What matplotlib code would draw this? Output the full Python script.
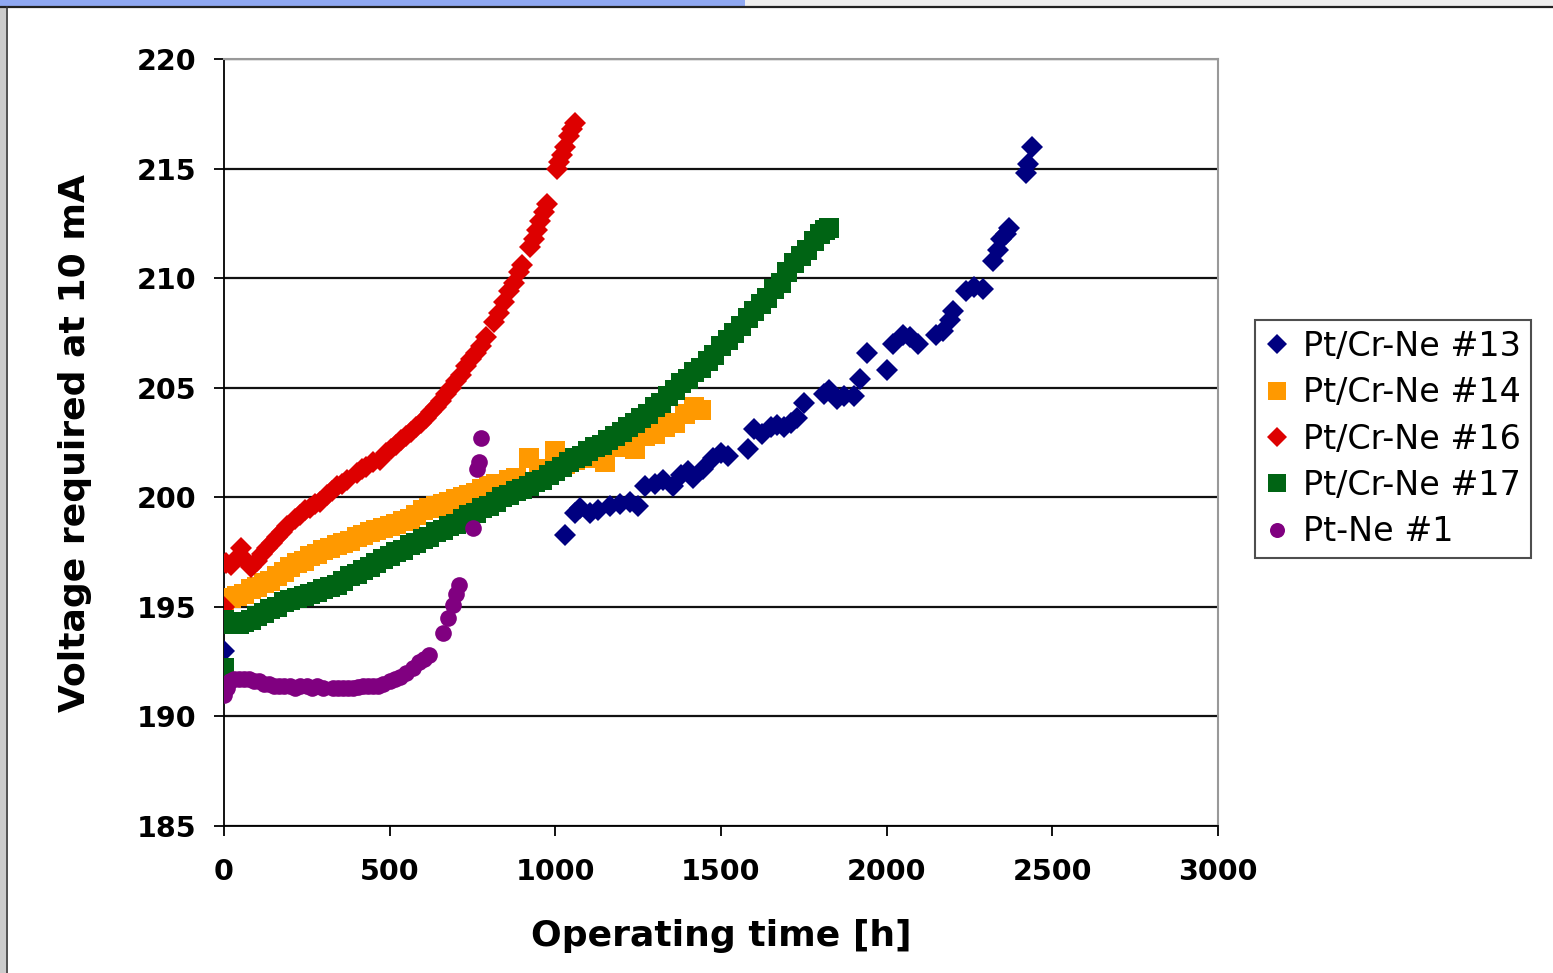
import numpy as np
import matplotlib.pyplot as plt
from matplotlib.patches import Rectangle
from matplotlib.lines import Line2D

# Operating time [h] and voltage [V] for each discharge cell
t13 = [0, 1030, 1060, 1075, 1105, 1130, 1165, 1195, 1225, 1250, 1270, 1300, 1325,
       1355, 1380, 1400, 1415, 1445, 1475, 1500, 1520, 1580, 1600, 1625, 1650, 1670,
       1690, 1710, 1730, 1750, 1810, 1825, 1850, 1870, 1900, 1920, 1940, 2000, 2020,
       2050, 2070, 2095, 2150, 2170, 2190, 2200, 2240, 2265, 2290, 2320, 2335, 2345,
       2360, 2370, 2420, 2428, 2440]
v13 = [193.0, 198.3, 199.3, 199.5, 199.3, 199.4, 199.6, 199.7, 199.8, 199.6, 200.5,
       200.6, 200.8, 200.5, 201.0, 201.2, 200.9, 201.3, 201.8, 202.0, 201.9, 202.2,
       203.1, 202.9, 203.2, 203.3, 203.2, 203.4, 203.6, 204.3, 204.7, 204.9, 204.5,
       204.6, 204.6, 205.4, 206.6, 205.8, 207.0, 207.4, 207.3, 207.0, 207.4, 207.6,
       208.1, 208.5, 209.4, 209.6, 209.5, 210.8, 211.3, 211.8, 212.0, 212.3, 214.8,
       215.2, 216.0]

t14 = [0, 20, 40, 60, 80, 100, 120, 140, 160, 180, 200, 220, 240, 260, 280, 300, 320,
       340, 360, 380, 400, 420, 440, 460, 480, 500, 520, 540, 560, 580, 600, 620, 640,
       660, 680, 700, 720, 740, 760, 780, 800, 820, 840, 860, 880, 920, 950, 980, 1000,
       1030, 1060, 1090, 1120, 1150, 1180, 1210, 1240, 1270, 1300, 1330, 1360, 1390,
       1420, 1440]
v14 = [194.5, 195.4, 195.5, 195.6, 195.8, 195.9, 196.1, 196.2, 196.4, 196.6, 196.8,
       197.0, 197.1, 197.3, 197.4, 197.6, 197.7, 197.8, 197.9, 198.0, 198.2, 198.3,
       198.4, 198.5, 198.6, 198.7, 198.8, 198.9, 199.0, 199.2, 199.4, 199.5, 199.6,
       199.7, 199.8, 199.9, 200.0, 200.1, 200.2, 200.4, 200.5, 200.6, 200.6, 200.8,
       200.9, 201.8, 201.0, 201.3, 202.1, 201.5, 201.7, 201.8, 202.0, 201.6, 202.3,
       202.6, 202.2, 202.8, 202.9, 203.2, 203.4, 203.8, 204.1, 204.0]

t16 = [0, 5, 20, 35, 50, 65, 80, 100, 115, 130, 145, 160, 175, 190, 215, 230, 245, 260,
       275, 290, 310, 325, 340, 355, 370, 400, 415, 430, 450, 470, 490, 505, 520, 535,
       550, 565, 580, 595, 610, 625, 640, 655, 670, 685, 700, 715, 730, 745, 760, 775,
       790, 815, 830, 845, 860, 875, 890, 900, 925, 935, 945, 955, 965, 975, 1005, 1012,
       1020, 1030, 1040, 1050, 1060]
v16 = [195.0, 197.0, 196.9, 197.2, 197.7, 197.1, 196.8, 197.1, 197.4, 197.7, 197.9,
       198.2, 198.4, 198.7, 199.0, 199.2, 199.4, 199.5, 199.7, 199.8, 200.1, 200.3,
       200.5, 200.6, 200.8, 201.1, 201.3, 201.4, 201.6, 201.7, 202.0, 202.2, 202.4,
       202.6, 202.8, 203.0, 203.2, 203.4, 203.6, 203.9, 204.1, 204.4, 204.7, 205.0,
       205.3, 205.6, 206.0, 206.3, 206.6, 206.9, 207.3, 208.0, 208.4, 208.9, 209.4,
       209.8, 210.3, 210.6, 211.4, 211.8, 212.2, 212.6, 213.0, 213.4, 215.0, 215.3,
       215.6, 216.0, 216.5, 216.8, 217.1]

t17 = [0, 0, 15, 30, 45, 60, 80, 100, 120, 140, 160, 180, 200, 220, 240, 260, 280, 300,
       320, 340, 360, 380, 400, 420, 440, 460, 480, 500, 520, 540, 560, 580, 600, 620,
       640, 660, 680, 700, 720, 740, 760, 780, 800, 820, 840, 860, 880, 900, 920, 940,
       960, 980, 1000, 1020, 1040, 1060, 1080, 1100, 1120, 1140, 1160, 1180, 1200, 1220,
       1240, 1260, 1280, 1300, 1320, 1340, 1360, 1380, 1400, 1420, 1440, 1460, 1480,
       1500, 1520, 1540, 1560, 1580, 1600, 1620, 1640, 1660, 1680, 1700, 1720, 1740,
       1760, 1780, 1800, 1815, 1825]
v17 = [192.2, 194.4, 194.3, 194.2, 194.2, 194.3, 194.4, 194.6, 194.7, 194.9, 195.0,
       195.2, 195.3, 195.4, 195.5, 195.6, 195.7, 195.8, 195.9, 196.0, 196.2, 196.4,
       196.5, 196.7, 196.8, 197.0, 197.2, 197.3, 197.5, 197.6, 197.8, 197.9, 198.1,
       198.2, 198.4, 198.5, 198.7, 198.8, 199.0, 199.2, 199.3, 199.5, 199.6, 199.8,
       200.0, 200.1, 200.3, 200.4, 200.5, 200.7, 200.8, 201.0, 201.2, 201.4, 201.6,
       201.8, 201.9, 202.1, 202.3, 202.4, 202.6, 202.8, 203.0, 203.2, 203.4, 203.6,
       203.8, 204.1, 204.3, 204.6, 204.9, 205.2, 205.4, 205.7, 205.9, 206.2, 206.5,
       206.9, 207.2, 207.5, 207.8, 208.2, 208.5, 208.8, 209.1, 209.5, 209.8, 210.3,
       210.7, 211.0, 211.3, 211.7, 212.0, 212.2, 212.3]

t1 = [0, 8, 18, 30, 45, 60, 75, 90, 105, 120, 135, 150, 165, 180, 200, 215, 230, 250,
      265, 280, 300, 330, 345, 360, 375, 390, 405, 420, 435, 450, 465, 480, 500, 515,
      530, 550, 570, 590, 605, 620, 660, 675, 690, 700, 710, 750, 765, 770, 775]
v1 = [191.0, 191.3, 191.6, 191.7, 191.7, 191.7, 191.7, 191.6, 191.6, 191.5, 191.5,
      191.4, 191.4, 191.4, 191.4, 191.3, 191.4, 191.4, 191.3, 191.4, 191.3, 191.3,
      191.3, 191.3, 191.3, 191.3, 191.35, 191.4, 191.4, 191.4, 191.4, 191.5, 191.6,
      191.7, 191.8, 192.0, 192.2, 192.5, 192.6, 192.8, 193.8, 194.5, 195.1, 195.6,
      196.0, 198.6, 201.3, 201.6, 202.7]

series = [
    (t13, v13, 'Pt/Cr-Ne #13', '#000080', 'D', 11),
    (t14, v14, 'Pt/Cr-Ne #14', '#FF9900', 's', 14),
    (t16, v16, 'Pt/Cr-Ne #16', '#DD0000', 'D', 11),
    (t17, v17, 'Pt/Cr-Ne #17', '#006414', 's', 14),
    (t1, v1, 'Pt-Ne #1', '#800080', 'o', 12),
]

fig = plt.figure(figsize=(15.53, 9.73), dpi=100)

# window chrome around the chart
fig.add_artist(Rectangle((0, 0), 1, 1, transform=fig.transFigure, facecolor='white',
                         edgecolor='none', zorder=-10))
fig.add_artist(Rectangle((0, 1 - 6 / 973), 1, 6 / 973, transform=fig.transFigure,
                         facecolor='#EEEEEE', edgecolor='none'))
fig.add_artist(Rectangle((0, 1 - 6 / 973), 745 / 1553, 6 / 973, transform=fig.transFigure,
                         facecolor='#8FA8F2', edgecolor='none'))
fig.add_artist(Rectangle((0, 0), 6 / 1553, 1 - 6 / 973, transform=fig.transFigure,
                         facecolor='#CCCCCC', edgecolor='none'))
fig.add_artist(Line2D([0, 1], [1 - 7 / 973, 1 - 7 / 973], transform=fig.transFigure,
                      color='#222222', lw=1.6))
fig.add_artist(Line2D([7 / 1553, 7 / 1553], [0, 1 - 7 / 973], transform=fig.transFigure,
                      color='#333333', lw=1.2))

ax = fig.add_axes([224 / 1553, 147 / 973, 994 / 1553, 767 / 973])

for t, v, name, col, mk, ms in series:
    ax.plot(t, v, linestyle='none', marker=mk, markersize=ms, color=col,
            markeredgewidth=0, label=name, zorder=3)

ax.set_xlim(0, 3000)
ax.set_ylim(185, 220)
ax.set_xticks(np.arange(0, 3001, 500))
ax.set_yticks(np.arange(185, 221, 5))
ax.yaxis.grid(True, color='#111111', lw=1.6)
ax.set_axisbelow(True)

for side in ['top', 'right']:
    ax.spines[side].set_color('#999999')
    ax.spines[side].set_linewidth(1.5)
for side in ['left', 'bottom']:
    ax.spines[side].set_color('black')
    ax.spines[side].set_linewidth(1.3)

ax.tick_params(axis='both', direction='out', length=7, width=1.3, labelsize=20.5, pad=13)
ax.tick_params(axis='x', pad=16)
for lab in ax.get_xticklabels() + ax.get_yticklabels():
    lab.set_fontweight('bold')

ax.set_xlabel('Operating time [h]', fontsize=26, fontweight='bold', labelpad=24)
ax.set_ylabel('Voltage required at 10 mA', fontsize=26, fontweight='bold', labelpad=32)

leg = ax.legend(loc='upper left', bbox_to_anchor=(1255 / 1553, 653 / 973),
                bbox_transform=fig.transFigure, fontsize=24, frameon=True,
                fancybox=False, borderaxespad=0, numpoints=1, handlelength=0.7,
                handletextpad=0.45, labelspacing=0.4, borderpad=0.3, markerscale=0.9)
leg.get_frame().set_edgecolor('#222222')
leg.get_frame().set_linewidth(1.5)

fig.savefig('out.png', dpi=100)
